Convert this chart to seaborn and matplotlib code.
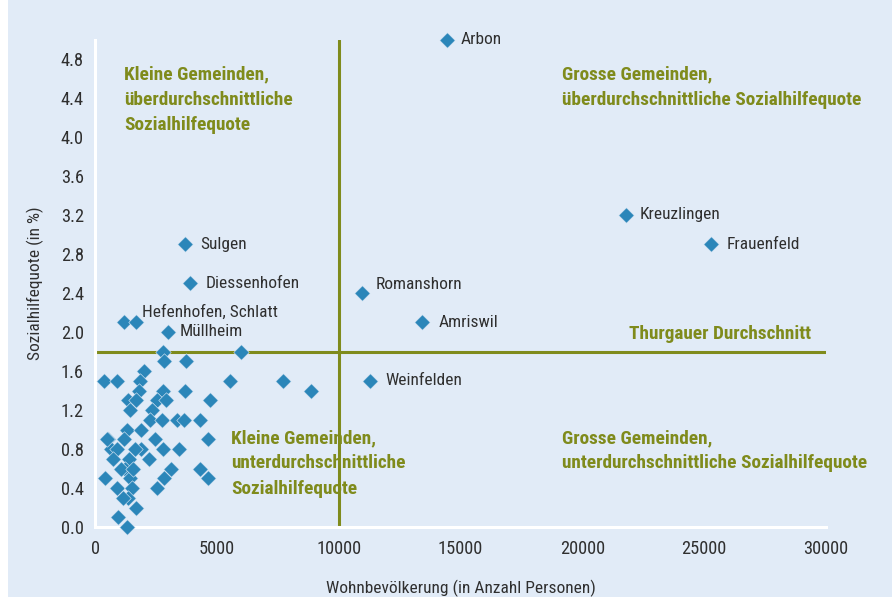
import matplotlib
matplotlib.use("Agg")
import matplotlib.pyplot as plt
from matplotlib import font_manager
from matplotlib.patches import Rectangle
import numpy as np
import pandas as pd
import seaborn as sns

# Gemeinden mit Beschriftung
named_labels = ["Arbon", "Kreuzlingen", "Frauenfeld", "Romanshorn", "Amriswil",
                "Weinfelden", "Sulgen", "Diessenhofen", "Müllheim",
                "Hefenhofen", "Schlatt"]
named_pop = [14450, 21800, 25300, 10950, 13400, 11300, 3700, 3900, 3000, 1200, 1700]
named_rate = [5.0, 3.2, 2.9, 2.4, 2.1, 1.5, 2.9, 2.5, 2.0, 2.1, 2.1]

# uebrige Gemeinden
other_pop = [2800, 6000, 2850, 3750, 2000, 380, 900, 1850, 5550, 7700, 8850,
             1800, 2800, 3700, 1350, 1700, 2550, 2900, 4700, 1450, 2350, 2250,
             2750, 3350, 3650, 4300, 1300, 550, 2450, 4650, 650, 900, 1900,
             2800, 3450, 750, 1400, 2200, 1250, 3100, 4300, 400, 1450, 2850,
             4650, 900, 1500, 2550, 1350, 1700, 950, 1300, 1050, 1200, 1550,
             1900, 480, 1150, 1650]
other_rate = [1.8, 1.8, 1.7, 1.7, 1.6, 1.5, 1.5, 1.5, 1.5, 1.5, 1.4,
              1.4, 1.4, 1.4, 1.3, 1.3, 1.3, 1.3, 1.3, 1.2, 1.2, 1.1,
              1.1, 1.1, 1.1, 1.1, 1.0, 0.9, 0.9, 0.9, 0.8, 0.8, 0.8,
              0.8, 0.8, 0.7, 0.7, 0.7, 0.6, 0.6, 0.6, 0.5, 0.5, 0.5,
              0.5, 0.4, 0.4, 0.4, 0.3, 0.2, 0.1, 0.0, 0.6, 0.9, 0.6,
              1.0, 0.9, 0.3, 0.8]

avg_rate = 1.8
pop_split = 10000

# Beschriftungen: Text, Versatz in Punkten
label_text = ["Arbon", "Kreuzlingen", "Frauenfeld", "Romanshorn", "Amriswil",
              "Weinfelden", "Sulgen", "Diessenhofen", "Müllheim"]
label_offset = [(10, 0), (10, 0), (11, 0), (10, 6), (12, 0),
                (11, 0), (11, 0), (11, 0), (8, 0)]

xticks = [0, 5000, 10000, 15000, 20000, 25000, 30000]

blue_bg = "#e1ebf7"
marker_col = "#2b86b9"
olive = "#7f8b1c"
text_col = "#2f2f2f"

sns.set_style("white")
avail = {f.name for f in font_manager.fontManager.ttflist}
fams = [f for f in ["Roboto Condensed", "Liberation Sans Narrow", "Roboto", "DejaVu Sans"]
        if f in avail]
plt.rcParams["font.family"] = fams[:1] + ["DejaVu Sans"]
narrow = fams[0] in ("Roboto Condensed", "Liberation Sans Narrow")
fs = 12.5 if narrow else 10.8
fsb = 13.9 if narrow else 11.8

df = pd.DataFrame({
    "pop": named_pop + other_pop,
    "rate": named_rate + other_rate,
})

fig = plt.figure(figsize=(8.92, 5.97), dpi=100, facecolor="white")
fig.patches.append(Rectangle((8 / 892, 0), 1, 1, transform=fig.transFigure,
                             facecolor=blue_bg, edgecolor="none", zorder=-10))
ax = fig.add_axes([95 / 892, 70 / 597, 731 / 892, 487.5 / 597])
ax.set_facecolor(blue_bg)
ax.patch.set_alpha(0)

ax.axvline(pop_split, ymin=0, ymax=1, color=olive, lw=2.2, zorder=1)
ax.axhline(avg_rate, xmin=0, xmax=1, color=olive, lw=2.2, zorder=1)

sns.scatterplot(data=df, x="pop", y="rate", marker="D", s=62,
                color=marker_col, edgecolor=blue_bg, linewidth=0.4,
                clip_on=False, zorder=3, ax=ax)

ax.set_xlim(0, 30000)
ax.set_ylim(0, 5.0)

for sp in ["top", "right"]:
    ax.spines[sp].set_visible(False)
for sp in ["left", "bottom"]:
    ax.spines[sp].set_color("white")
    ax.spines[sp].set_linewidth(2.2)
    ax.spines[sp].set_zorder(2)

ax.set_xticks(xticks)
ax.set_xticklabels([str(t) for t in xticks])
yt = np.round(np.arange(0, 5.01, 0.2), 1)
ax.set_yticks(yt)
ax.set_yticklabels(["%.1f" % v if (round(v * 10) % 4 == 0 and v < 4.9) else "" for v in yt])
ax.tick_params(axis="x", direction="in", length=9, width=1.6, color="white",
               labelsize=fs + 0.7, labelcolor=text_col, pad=9)
ax.tick_params(axis="y", direction="in", length=11.5, width=1.6, color="white",
               labelsize=fs + 0.7, labelcolor=text_col, pad=8)

ax.set_xlabel("Wohnbevölkerung (in Anzahl Personen)", fontsize=fs,
              color=text_col, labelpad=16)
ax.set_ylabel("Sozialhilfequote (in %)", fontsize=fs, color=text_col,
              labelpad=12)

# Punktbeschriftungen
for name, (dx, dy) in zip(label_text, label_offset):
    i = named_labels.index(name)
    ax.annotate(name, (named_pop[i], named_rate[i]), xytext=(dx, dy),
                textcoords="offset points", ha="left", va="center",
                fontsize=fs, color=text_col, annotation_clip=False)
i = named_labels.index("Schlatt")
ax.annotate("Hefenhofen, Schlatt", (named_pop[i], named_rate[i]), xytext=(4, 7),
            textcoords="offset points", ha="left", va="center",
            fontsize=fs, color=text_col)

# Quadranten
qkw = dict(fontsize=fsb, fontweight="bold", color=olive, va="top", ha="left",
           linespacing=1.5)
ax.text(1200, 4.73, "Kleine Gemeinden,\nüberdurchschnittliche\nSozialhilfequote", **qkw)
ax.text(19150, 4.73, "Grosse Gemeinden,\nüberdurchschnittliche Sozialhilfequote", **qkw)
ax.text(5600, 1.0, "Kleine Gemeinden,\nunterdurchschnittliche\nSozialhilfequote", **qkw)
ax.text(19150, 1.0, "Grosse Gemeinden,\nunterdurchschnittliche Sozialhilfequote", **qkw)
ax.text(29400, 1.98, "Thurgauer Durchschnitt", fontsize=fsb, fontweight="bold",
        color=olive, ha="right", va="center")

fig.savefig("out.png", dpi=100, facecolor="white")
